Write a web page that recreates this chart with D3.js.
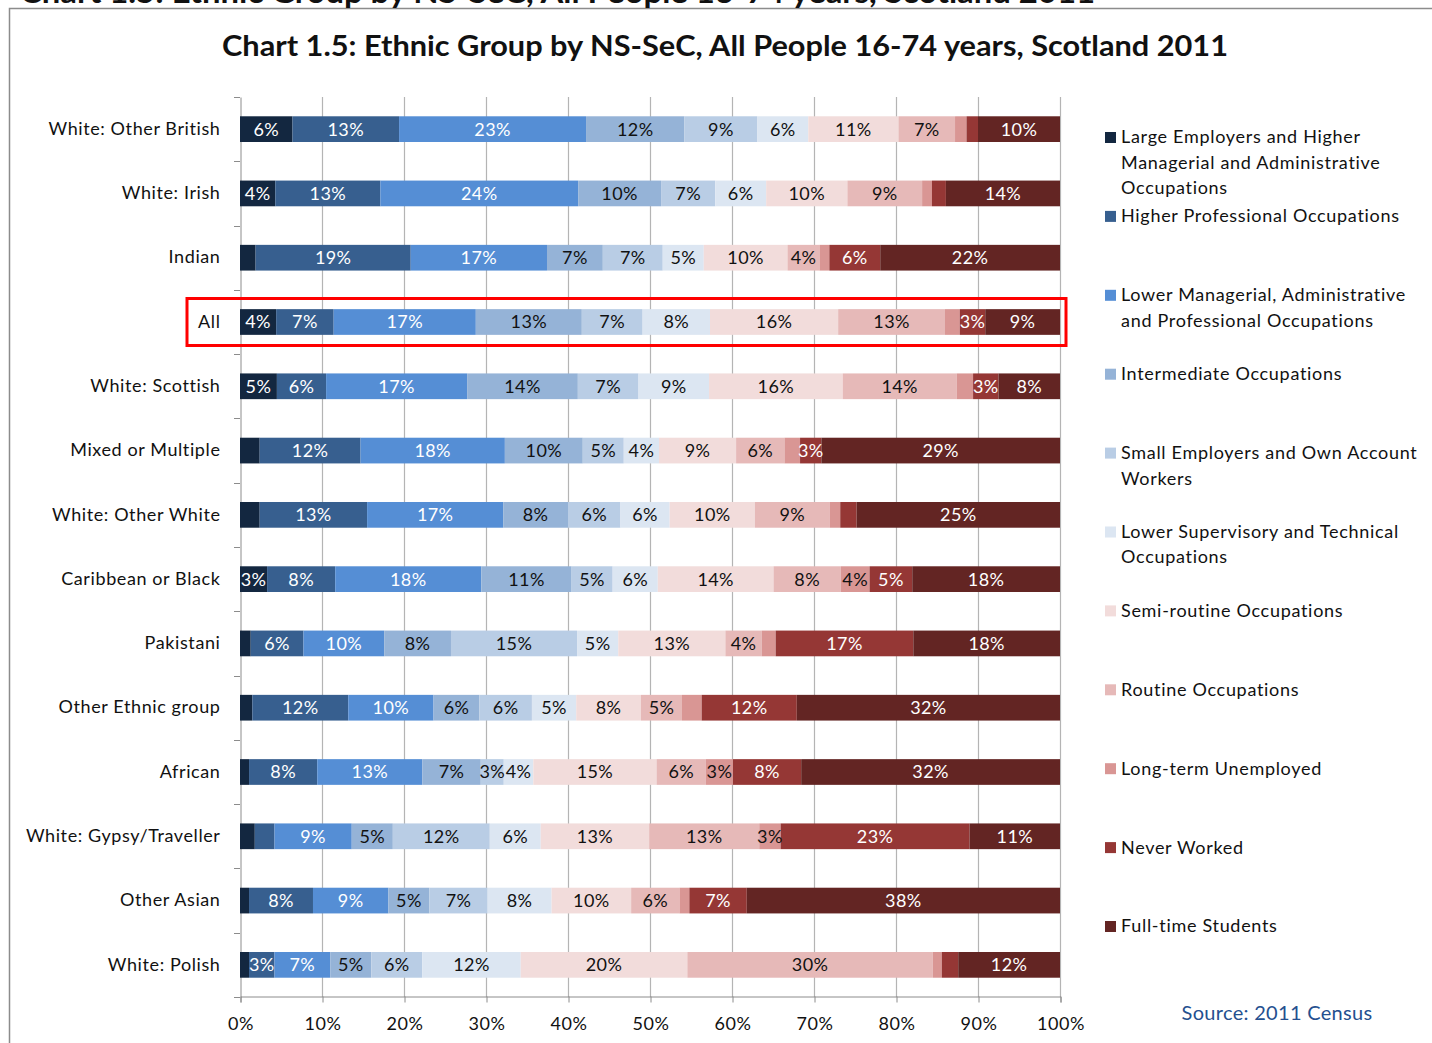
<!DOCTYPE html>
<html>
<head>
<meta charset="utf-8">
<script src="https://cdn.jsdelivr.net/npm/d3@7"></script>
<style>
  html, body { margin: 0; padding: 0; background: #fff; }
  svg { display: block; font-family: Lato, "Open Sans", sans-serif; }
</style>
</head>
<body>
<svg id="chart" width="1432" height="1043"></svg>
<script>
// ---------- data ----------
const categories = ["White: Other British","White: Irish","Indian","All","White: Scottish","Mixed or Multiple","White: Other White","Caribbean or Black","Pakistani","Other Ethnic group","African","White: Gypsy/Traveller","Other Asian","White: Polish"];

const seriesNames = [
  "Large Employers and Higher Managerial and Administrative Occupations",
  "Higher Professional Occupations",
  "Lower Managerial, Administrative and Professional Occupations",
  "Intermediate Occupations",
  "Small Employers and Own Account Workers",
  "Lower Supervisory and Technical Occupations",
  "Semi-routine Occupations",
  "Routine Occupations",
  "Long-term Unemployed",
  "Never Worked",
  "Full-time Students"
];

const largeEmployers   = [6.4, 4.3, 1.9, 4.4, 4.5, 2.4, 2.4, 3.3, 1.3, 1.5, 1.1, 1.8, 1.1, 1.1];
const higherProf       = [13.0, 12.8, 18.9, 7.0, 6.0, 12.3, 13.1, 8.3, 6.4, 11.7, 8.3, 2.4, 7.8, 3.1];
const lowerManagerial  = [22.8, 24.1, 16.6, 17.3, 17.2, 17.6, 16.6, 17.8, 9.8, 10.4, 12.8, 9.4, 9.2, 6.8];
const intermediate     = [12.0, 10.1, 6.8, 12.9, 13.5, 9.5, 7.9, 11.0, 8.1, 5.6, 7.1, 5.0, 5.0, 5.0];
const smallEmployers   = [8.9, 6.6, 7.3, 7.4, 7.4, 5.0, 6.4, 5.0, 15.3, 6.4, 2.8, 11.8, 7.1, 6.2];
const lowerSupervisory = [6.2, 6.2, 5.0, 8.2, 8.6, 4.3, 6.0, 5.5, 5.0, 5.4, 3.6, 6.2, 7.8, 12.0];
const semiRoutine      = [11.0, 9.9, 10.2, 15.6, 16.3, 9.4, 10.4, 14.1, 13.0, 7.9, 15.0, 13.2, 9.7, 20.3];
const routine          = [6.9, 9.1, 3.9, 13.0, 13.9, 5.9, 9.1, 8.2, 4.4, 5.0, 6.0, 13.4, 5.9, 29.9];
const longTermUnemp    = [1.4, 1.2, 1.2, 1.8, 2.0, 1.9, 1.3, 3.5, 1.7, 2.4, 3.3, 2.6, 1.2, 1.1];
const neverWorked      = [1.4, 1.7, 6.2, 3.1, 3.1, 2.6, 2.0, 5.2, 16.7, 11.6, 8.3, 23.0, 7.0, 2.0];
const students         = [10.0, 13.9, 21.9, 9.1, 7.5, 29.1, 24.8, 18.0, 17.8, 32.1, 31.5, 11.0, 38.2, 12.4];

const xTicks = [0, 0.1, 0.2, 0.3, 0.4, 0.5, 0.6, 0.7, 0.8, 0.9, 1.0];
const highlighted = "All";

const colors = ["#132740","#375f8f","#558ed5","#95b3d7","#b9cde5","#dce6f2","#f2dcdb","#e6b9b8","#d99694","#953735","#632523"];
const whiteLabel = [true, true, true, false, false, false, false, false, false, true, true];

const seriesValues = [largeEmployers, higherProf, lowerManagerial, intermediate, smallEmployers,
  lowerSupervisory, semiRoutine, routine, longTermUnemp, neverWorked, students];

// build table
const table = categories.map((c, i) => {
  const row = { cat: c };
  seriesNames.forEach((s, j) => row[s] = seriesValues[j][i]);
  return row;
});

// ---------- layout ----------
const svg = d3.select("#chart");
const plotLeft = 240, plotRight = 1060, plotTop = 97, plotBottom = 997;

const x = d3.scaleLinear().domain([0, 1]).range([plotLeft, plotRight]);
const y = d3.scaleBand().domain(categories).range([plotTop, plotBottom]).paddingInner(0.6).paddingOuter(0.3);

// frame
svg.append("rect").attr("x", 9.5).attr("y", 8.5).attr("width", 1500).attr("height", 1100)
  .attr("fill", "none").attr("stroke", "#8c8c8c").attr("stroke-width", 1.5);

// cut heading above the frame (only its lower edge is visible, as in the reference)
svg.append("text").attr("x", 20).attr("y", 3)
  .attr("font-size", 30).attr("font-weight", "bold").attr("fill", "#111")
  .attr("textLength", 1075).attr("lengthAdjust", "spacingAndGlyphs")
  .text("Chart 1.5: Ethnic Group by NS-SeC, All People 16-74 years, Scotland 2011");

// title
svg.append("text").attr("x", 222).attr("y", 56)
  .attr("font-size", 28).attr("font-weight", "bold").attr("fill", "#111")
  .attr("textLength", 1006).attr("lengthAdjust", "spacingAndGlyphs")
  .text("Chart 1.5: Ethnic Group by NS-SeC, All People 16-74 years, Scotland 2011");

// gridlines
svg.append("g").selectAll("line").data(xTicks.slice(1)).join("line")
  .attr("x1", d => x(d) + 0.5).attr("x2", d => x(d) + 0.5)
  .attr("y1", plotTop).attr("y2", plotBottom)
  .attr("stroke", "#b4b4b4").attr("stroke-width", 1.2);

// x axis
const xAxis = d3.axisBottom(x).tickValues(xTicks).tickFormat(d3.format(".0%")).tickSize(6).tickPadding(15);
const gx = svg.append("g").attr("transform", `translate(0.5,${plotBottom - 0.5})`).call(xAxis);
gx.select(".domain").attr("stroke", "#8c8c8c");
gx.selectAll(".tick line").attr("stroke", "#8c8c8c");
gx.selectAll(".tick text").attr("font-size", 18).attr("fill", "#111")
  .attr("font-family", "Lato, sans-serif").attr("letter-spacing", 0.6);

// y axis (category labels + boundary ticks)
const yAxis = d3.axisLeft(y).tickSize(0).tickPadding(20);
const gy = svg.append("g").attr("transform", `translate(${plotLeft + 0.5},0)`).call(yAxis);
gy.select(".domain").attr("stroke", "#8c8c8c");
gy.selectAll(".tick text").attr("font-size", 18).attr("fill", "#111")
  .attr("font-family", "Lato, sans-serif").attr("letter-spacing", 0.6);
const bounds = categories.map(c => y(c) + y.bandwidth() / 2 - y.step() / 2).concat([plotBottom]);
svg.append("g").selectAll("line").data(bounds).join("line")
  .attr("x1", plotLeft - 6).attr("x2", plotLeft).attr("y1", d => Math.round(d) + 0.5).attr("y2", d => Math.round(d) + 0.5)
  .attr("stroke", "#8c8c8c");

// stacked bars
const stack = d3.stack().keys(seriesNames).offset(d3.stackOffsetExpand);
const stacked = stack(table);

const layers = svg.append("g").selectAll("g").data(stacked).join("g")
  .attr("fill", (d, i) => colors[i]);

layers.selectAll("rect").data(d => d.map(p => ({ p, key: d.key }))).join("rect")
  .attr("x", d => x(d.p[0]))
  .attr("width", d => x(d.p[1]) - x(d.p[0]))
  .attr("y", d => y(d.p.data.cat))
  .attr("height", y.bandwidth());

// data labels
stacked.forEach((layer, i) => {
  svg.append("g").selectAll("text")
    .data(layer.filter(p => Math.round(p.data[layer.key]) >= 3))
    .join("text")
    .attr("x", p => (x(p[0]) + x(p[1])) / 2)
    .attr("y", p => y(p.data.cat) + y.bandwidth() / 2)
    .attr("dy", "0.36em")
    .attr("text-anchor", "middle")
    .attr("font-size", 18)
    .attr("letter-spacing", 0.4)
    .attr("fill", whiteLabel[i] ? "#ffffff" : "#111111")
    .text(p => Math.round(p.data[layer.key]) + "%");
});

// highlight box around "All"
const hy = y(highlighted) + y.bandwidth() / 2;
svg.append("rect")
  .attr("x", 187).attr("y", hy - 23.5)
  .attr("width", x(1) + 6 - 187).attr("height", 47)
  .attr("fill", "none").attr("stroke", "#ff0000").attr("stroke-width", 3);

// legend (fixed spacing, wrapped text)
const legendWrap = {
  "Large Employers and Higher Managerial and Administrative Occupations": ["Large Employers and Higher", "Managerial and Administrative", "Occupations"],
  "Lower Managerial, Administrative and Professional Occupations": ["Lower Managerial, Administrative", "and Professional Occupations"],
  "Small Employers and Own Account Workers": ["Small Employers and Own Account", "Workers"],
  "Lower Supervisory and Technical Occupations": ["Lower Supervisory and Technical", "Occupations"]
};
const legY = d3.scalePoint().domain(seriesNames).range([137, 926]);
const leg = svg.append("g").selectAll("g").data(seriesNames).join("g")
  .attr("transform", d => `translate(1105,${legY(d)})`);
leg.append("rect").attr("x", 0).attr("y", -5).attr("width", 11).attr("height", 11)
  .attr("fill", (d, i) => colors[i]);
leg.append("text").attr("font-size", 18).attr("fill", "#111").attr("letter-spacing", 0.7)
  .selectAll("tspan").data(d => legendWrap[d] || [d]).join("tspan")
  .attr("x", 16).attr("y", (d, i) => i * 25.5).attr("dy", "0.36em").text(d => d);

// source
svg.append("text").attr("x", 1277).attr("y", 1013).attr("text-anchor", "middle").attr("dy", "0.36em")
  .attr("font-size", 20).attr("letter-spacing", 0.3).attr("fill", "#24508f").text("Source: 2011 Census");
</script>
</body>
</html>
